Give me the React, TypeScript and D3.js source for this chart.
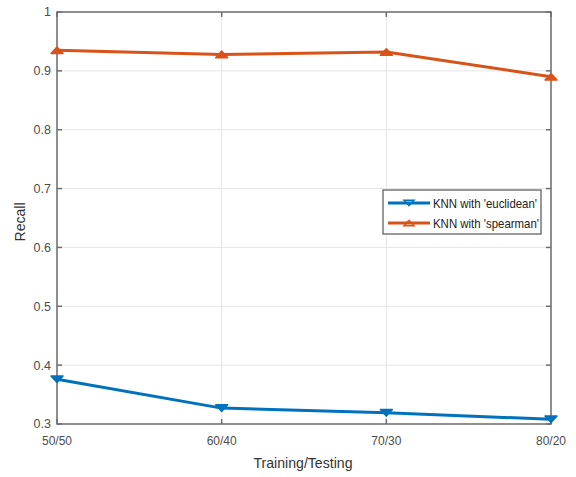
import * as d3 from "d3";

const splits = ["50/50", "60/40", "70/30", "80/20"];
const euclidean = [0.376, 0.327, 0.319, 0.308];
const spearman = [0.935, 0.928, 0.932, 0.89];
const yTicks = [0.3, 0.4, 0.5, 0.6, 0.7, 0.8, 0.9, 1];

const W = 576;
const H = 477;
const m = { left: 57, right: 25, top: 12, bottom: 53 };

const BLUE = "#0072bd";
const ORANGE = "#d95319";
const AXIS = "#6e6e6e";
const TXT = "#4d4d4d";
const FONT = "'Liberation Sans', Arial, sans-serif";

function tri(cx: number, cy: number, s: number, down: boolean) {
  const h = s * 1.1;
  return down
    ? `M${cx - s},${cy - h / 2}L${cx + s},${cy - h / 2}L${cx},${cy + h / 2}Z`
    : `M${cx - s},${cy + h / 2}L${cx + s},${cy + h / 2}L${cx},${cy - h / 2}Z`;
}

export default function App() {
  const x = d3
    .scalePoint<string>()
    .domain(splits)
    .range([m.left, W - m.right]);
  const y = d3.scaleLinear().domain([0.3, 1]).range([H - m.bottom, m.top]);

  const line = d3
    .line<number>()
    .x((_, i) => x(splits[i])!)
    .y((d) => y(d));

  const series = [
    { name: "KNN with 'euclidean'", values: euclidean, color: BLUE, down: true, len: 104 },
    { name: "KNN with 'spearman'", values: spearman, color: ORANGE, down: false, len: 106 },
  ];

  const x0 = m.left;
  const x1 = W - m.right;
  const y0 = H - m.bottom;
  const y1 = m.top;

  const lg = { x: 383, y: 190, w: 158, h: 44 };

  return (
    <svg
      width={W}
      height={H}
      style={{ position: "absolute", left: 0, top: 0, background: "#fff" }}
      fontFamily={FONT}
    >
      {/* grid */}
      {yTicks.map((t) => (
        <line key={"gy" + t} x1={x0} x2={x1} y1={y(t)} y2={y(t)} stroke="#e6e6e6" strokeWidth={1} />
      ))}
      {splits.map((s) => (
        <line key={"gx" + s} x1={x(s)} x2={x(s)} y1={y0} y2={y1} stroke="#e6e6e6" strokeWidth={1} />
      ))}

      {/* box */}
      <rect x={x0} y={y1} width={x1 - x0} height={y0 - y1} fill="none" stroke={AXIS} strokeWidth={1.5} />

      {/* ticks */}
      {yTicks.map((t) => (
        <g key={"ty" + t}>
          <line x1={x0} x2={x0 + 5} y1={y(t)} y2={y(t)} stroke={AXIS} strokeWidth={1.5} />
          <line x1={x1} x2={x1 - 5} y1={y(t)} y2={y(t)} stroke={AXIS} strokeWidth={1.5} />
          <text x={x0 - 6} y={y(t)} dy="0.35em" textAnchor="end" fontSize={12.5} fill={TXT}>
            {t === 1 ? "1" : t.toFixed(1)}
          </text>
        </g>
      ))}
      {splits.map((s) => (
        <g key={"tx" + s}>
          <line x1={x(s)} x2={x(s)} y1={y0} y2={y0 - 5} stroke={AXIS} strokeWidth={1.5} />
          <line x1={x(s)} x2={x(s)} y1={y1} y2={y1 + 5} stroke={AXIS} strokeWidth={1.5} />
          <text x={x(s)} y={y0 + 21} textAnchor="middle" fontSize={12.5} fill={TXT} textLength={30} lengthAdjust="spacingAndGlyphs">
            {s}
          </text>
        </g>
      ))}

      {/* labels */}
      <text x={(x0 + x1) / 2 - 1} y={H - 9} textAnchor="middle" fontSize={15} fill="#333" textLength={99} lengthAdjust="spacingAndGlyphs">
        Training/Testing
      </text>
      <text
        transform={`translate(25,${(y0 + y1) / 2 + 4}) rotate(-90)`}
        textAnchor="middle"
        fontSize={15}
        fill="#333"
        textLength={39}
        lengthAdjust="spacingAndGlyphs"
      >
        Recall
      </text>

      {/* series */}
      {series.map((s) => (
        <g key={s.name}>
          <path d={line(s.values) ?? ""} fill="none" stroke={s.color} strokeWidth={3} strokeLinejoin="round" />
          {s.values.map((v, i) => (
            <path
              key={i}
              d={tri(x(splits[i])!, y(v), 6, s.down)}
              fill={s.color}
              stroke={s.color}
              strokeWidth={1.5}
              strokeLinejoin="round"
            />
          ))}
        </g>
      ))}

      {/* legend */}
      <rect x={lg.x} y={lg.y} width={lg.w} height={lg.h} fill="#fff" stroke="#333" strokeWidth={1} />
      {series.map((s, i) => {
        const cy = lg.y + 13 + i * 20;
        return (
          <g key={"lg" + s.name}>
            <line x1={lg.x + 5} x2={lg.x + 47} y1={cy} y2={cy} stroke={s.color} strokeWidth={3} />
            <path d={tri(lg.x + 26, cy, 5, s.down)} fill="none" stroke={s.color} strokeWidth={1.5} />
            <text x={lg.x + 50} y={cy} dy="0.35em" fontSize={13} fill="#222" textLength={s.len} lengthAdjust="spacingAndGlyphs">
              {s.name}
            </text>
          </g>
        );
      })}
    </svg>
  );
}
